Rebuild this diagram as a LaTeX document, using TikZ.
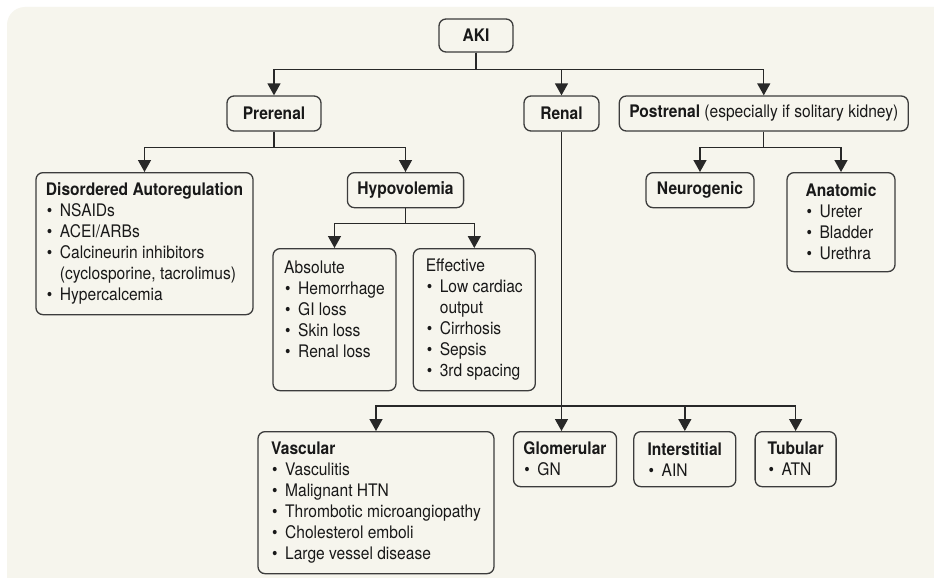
\documentclass[tikz,border=0pt]{standalone}
\usepackage{fontspec}
\setmainfont{TeX Gyre Heros}[FakeStretch=0.9]
\usetikzlibrary{positioning, arrows.meta}
\definecolor{bg}{RGB}{246,245,237}
\definecolor{lines}{RGB}{40,40,40}
\definecolor{boxline}{RGB}{60,60,60}
\newcommand{\blt}{\makebox[14pt][l]{\hspace{1pt}\textbullet}}
\newcommand{\bltind}{\hspace*{14pt}}

\begin{document}
\begin{tikzpicture}[
    x=1pt, y=-1pt,
    box/.style={draw=boxline, line width=1.3pt, rounded corners=7pt, fill=bg, align=left, inner xsep=10pt, inner ysep=6pt, text=black!90, font=\fontsize{17.3}{21}\selectfont},
    head/.style={box, font=\fontsize{17.3}{21}\selectfont\bfseries, minimum height=35pt},
    arr/.style={-{Triangle[length=12pt, width=13pt]}, line width=1.4pt, draw=lines}
]
    \useasboundingbox (0,0) rectangle (934,578);
    \fill[white] (0,0) rectangle (934,578);
    \fill[bg, rounded corners=18pt] (7,7) rectangle (960,600);

    % top levels
    \node[head, minimum width=74pt, minimum height=33pt] (aki) at (476,35.5) {AKI};
    \node[head, minimum width=94pt] (prerenal) at (274,113.5) {Prerenal};
    \node[head, minimum width=75pt] (renal) at (561.5,113.5) {Renal};
    \node[head, minimum width=288pt] (postrenal) [right=19pt of renal] {Postrenal \textmd{(especially if solitary kidney)}};

    % prerenal side
    \node[box, anchor=north, minimum width=215pt, minimum height=142pt] (disreg) at (144.5,172) {\textbf{Disordered Autoregulation}\\ \blt NSAIDs\\ \blt ACEI/ARBs\\ \blt Calcineurin inhibitors\\ \bltind(cyclosporine, tacrolimus)\\ \blt Hypercalcemia};
    \node[head, anchor=north, minimum width=113pt] (hypo) at (405.5,172) {Hypovolemia};
    \node[box, anchor=north, minimum width=123pt, minimum height=142pt] (absolute) at (334.5,248) {Absolute\\ \blt Hemorrhage\\ \blt GI loss\\ \blt Skin loss\\ \blt Renal loss\\ ~};
    \node[box, minimum width=122pt, minimum height=142pt] (effective) [right=16pt of absolute] {Effective\\ \blt Low cardiac\\ \bltind output\\ \blt Cirrhosis\\ \blt Sepsis\\ \blt 3rd spacing};

    % postrenal side
    \node[head, anchor=north, minimum width=108pt] (neuro) at (700,172) {Neurogenic};
    \node[box, anchor=north, minimum width=108pt, minimum height=99pt] (anatomic) at (841,172) {\textbf{Anatomic}\\ \blt Ureter\\ \blt Bladder\\ \blt Urethra};

    % renal side
    \node[box, anchor=north, minimum width=236pt, minimum height=142pt] (vascular) at (376,431) {\textbf{Vascular}\\ \blt Vasculitis\\ \blt Malignant HTN\\ \blt Thrombotic microangiopathy\\ \blt Cholesterol emboli\\ \blt Large vessel disease};
    \node[box, anchor=north, minimum width=102pt, minimum height=55pt] (glom) at (565,431) {\textbf{Glomerular}\\ \blt GN};
    \node[box, minimum width=102pt, minimum height=55pt] (inter) [right=16pt of glom] {\textbf{Interstitial}\\ \blt AIN};
    \node[box, minimum width=81pt, minimum height=55pt] (tubular) [right=18pt of inter] {\textbf{Tubular}\\ \blt ATN};

    % connectors
    \draw[arr] (aki.south) -- ++(0,17) -| (prerenal);
    \draw[arr] (aki.south) -- ++(0,17) -| (renal);
    \draw[arr] (aki.south) -- ++(0,17) -| (postrenal);
    \draw[arr] (prerenal.south) -- ++(0,16) -| (disreg);
    \draw[arr] (prerenal.south) -- ++(0,16) -| (hypo);
    \draw[arr] (hypo.south) -- ++(0,15) -| (absolute);
    \draw[arr] (hypo.south) -- ++(0,15) -| (effective);
    \draw[arr] (postrenal.south) -- ++(0,16) -| (neuro);
    \draw[arr] (postrenal.south) -- ++(0,16) -| (anatomic);
    \draw[arr] (renal) -- (renal |- glom.north);
    \coordinate (rbus) at (renal |- 0,406);
    \draw[arr] (rbus) -| (vascular);
    \draw[arr] (rbus) -| (inter);
    \draw[arr] (rbus) -| (tubular);
\end{tikzpicture}
\end{document}
